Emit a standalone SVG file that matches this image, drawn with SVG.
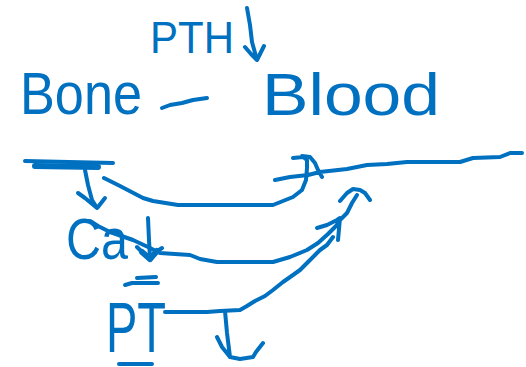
<svg xmlns="http://www.w3.org/2000/svg" width="526" height="367" viewBox="0 0 526 367">
<style>
.t{font-family:"Liberation Sans",Arial,sans-serif;fill:#0070C0}
.s{fill:none;stroke:#0070C0;stroke-width:4;stroke-linecap:round;stroke-linejoin:round}
.b{stroke-width:6}
</style>
<rect width="526" height="367" fill="#fff"/>
<g id="pth">
<text class="t" x="150" y="53" font-size="44" textLength="84" lengthAdjust="spacingAndGlyphs">PTH</text>
<path class="s" d="M247,8 L250,25 L252,42 L257,60 M245,47 L251,54 L257,60 L262,50 L264,46"/>
</g>
<g id="bone">
<text class="t" x="20" y="114" font-size="60" textLength="122" lengthAdjust="spacingAndGlyphs">Bone</text>
</g>
<g id="blood">
<text class="t" x="262" y="115" font-size="60" textLength="178" lengthAdjust="spacingAndGlyphs">Blood</text>
</g>
<g id="ca">
<text class="t" x="66" y="259" font-size="58" textLength="62" lengthAdjust="spacingAndGlyphs">Ca</text>
</g>
<g id="pt">
<text class="t" x="106" y="352" font-size="70" textLength="60" lengthAdjust="spacingAndGlyphs">PT</text>
<path class="s" d="M125,285 L132,283 L158,283 M137,278 L156,277 M119,364 L152,364"/>
</g>
<g id="connectors">
<path class="s" d="M162,108 L170,105 L182,103 L193,100 L207,98"/>
<path class="s" d="M25,161 L113,163"/>
<path class="s b" d="M35,166 L98,167"/>
<path class="s" d="M85,170 L88,185 L92,200 L97,208 M78,193 L85,198 L97,208 M105,198 L98,207"/>
<path class="s" d="M104,178 L120,186 L143,198 L153,201 L178,205 L273,205 L283,201 L293,197 L302,190 L306,180 L307,168 L307,160 L303,157 L293,158 M302,156 L310,157 L315,163 L318,170 L322,177 M275,180 L290,177 L308,175 L320,172 L347,169 L367,165 L387,164 L407,162 L460,162 L473,158 L500,157 L510,153 L522,153"/>
<path class="s" d="M148,218 L149,240 L150,258 M137,247 L145,255 L150,260 L156,252 L162,248"/>
<path class="s b" d="M142,252 L150,259 L157,251"/>
<path class="s" d="M90,221 L98,226 L110,232 L133,240 L148,247 L160,253 L190,255 L200,259 L217,262 L273,262 L290,257 L307,250 L318,243 L328,234 L336,226 L340,220 L347,213 L352,203 L357,195 M340,201 L347,193 L353,189 L360,190 L365,193 L370,200 M317,228 L327,225 L337,220 L340,218 L338,240"/>
<path class="s" d="M165,312 L207,312 L220,311 L240,310 L247,306 L255,301 L265,296 L273,290 L283,282 L293,275 L300,270 L308,262 L315,255 L320,250 L327,245 L333,237"/>
<path class="s" d="M225,311 L227,333 L230,357 M217,337 L222,347 L230,357 M263,343 L256,352 L253,357 L240,359 L230,357"/>
</g>
</svg>
